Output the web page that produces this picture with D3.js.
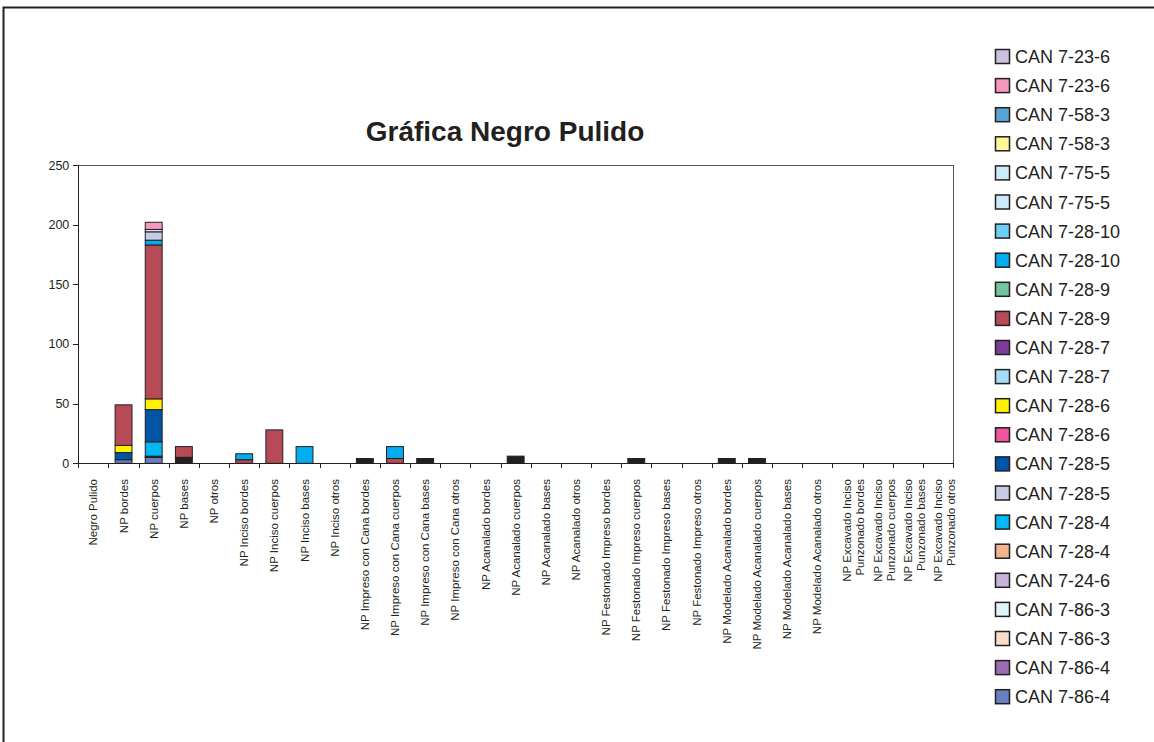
<!DOCTYPE html>
<head>
    <meta charset="utf-8">
    <title>Gráfica Negro Pulido</title>
    <script src="https://d3js.org/d3.v7.min.js"></script>
    <style>
        body{
            margin: 0;
            background: #ffffff;
        }
        text{
            font-family: "Liberation Sans", Arial, sans-serif;
            fill: #231f20;
        }
        text.title{
            font-size: 28px;
            font-weight: 700;
        }
        text.catLabel{
            font-size: 11.5px;
        }
        text.legendLabel{
            font-size: 18px;
        }
        .tick line, path.domain{
            stroke: #231f20;
            shape-rendering: crispEdges;
        }
    </style>
</head>
<body>
<script>
    // categorias del eje x
    const categories = [
        "Negro Pulido", "NP bordes", "NP cuerpos", "NP bases", "NP otros",
        "NP Inciso bordes", "NP Inciso cuerpos", "NP Inciso bases", "NP Inciso otros",
        "NP Impreso con Cana bordes", "NP Impreso con Cana cuerpos", "NP Impreso con Cana bases", "NP Impreso con Cana otros",
        "NP Acanalado bordes", "NP Acanalado cuerpos", "NP Acanalado bases", "NP Acanalado otros",
        "NP Festonado Impreso bordes", "NP Festonado Impreso cuerpos", "NP Festonado Impreso bases", "NP Festonado Impreso otros",
        "NP Modelado Acanalado bordes", "NP Modelado Acanalado cuerpos", "NP Modelado Acanalado bases", "NP Modelado Acanalado otros",
        "NP Excavado Inciso Punzonado bordes", "NP Excavado Inciso Punzonado cuerpos",
        "NP Excavado Inciso Punzonado bases", "NP Excavado Inciso Punzonado otros"
    ];

    // leyenda, de arriba hacia abajo
    const legendNames = [
        "CAN 7-23-6", "CAN 7-23-6", "CAN 7-58-3", "CAN 7-58-3", "CAN 7-75-5", "CAN 7-75-5",
        "CAN 7-28-10", "CAN 7-28-10", "CAN 7-28-9", "CAN 7-28-9", "CAN 7-28-7", "CAN 7-28-7",
        "CAN 7-28-6", "CAN 7-28-6", "CAN 7-28-5", "CAN 7-28-5", "CAN 7-28-4", "CAN 7-28-4",
        "CAN 7-24-6", "CAN 7-86-3", "CAN 7-86-3", "CAN 7-86-4", "CAN 7-86-4"
    ];
    const legendColors = [
        "#ccc0de", "#f598c0", "#5aa5d8", "#fff799", "#cdeaf9", "#cdeaf9",
        "#6dcff6", "#00aeef", "#72c59f", "#b64a57", "#7c3c98", "#a2dcf7",
        "#fff200", "#f0559e", "#0054a6", "#c7cbe6", "#00b9f2", "#f2b48c",
        "#c9b3d9", "#e1f4fb", "#fbdcc8", "#9a6cb0", "#6a7fc0"
    ];

    // valores por serie (solo las que tienen tiestos), en orden de apilado
    const v_7_86_4  = [0, 3, 5, 0, 0, 0, 0, 0, 0, 0, 0, 0, 0, 0, 0, 0, 0, 0, 0, 0, 0, 0, 0, 0, 0, 0, 0, 0, 0];
    const v_otros   = [0, 0, 1, 5, 0, 0, 0, 0, 0, 4, 0, 4, 0, 0, 6, 0, 0, 0, 4, 0, 0, 4, 4, 0, 0, 0, 0, 0, 0];
    const v_7_28_4  = [0, 0, 12, 0, 0, 0, 0, 0, 0, 0, 0, 0, 0, 0, 0, 0, 0, 0, 0, 0, 0, 0, 0, 0, 0, 0, 0, 0, 0];
    const v_7_28_5  = [0, 6, 27, 0, 0, 0, 0, 0, 0, 0, 0, 0, 0, 0, 0, 0, 0, 0, 0, 0, 0, 0, 0, 0, 0, 0, 0, 0, 0];
    const v_7_28_6  = [0, 6, 9, 0, 0, 0, 0, 0, 0, 0, 0, 0, 0, 0, 0, 0, 0, 0, 0, 0, 0, 0, 0, 0, 0, 0, 0, 0, 0];
    const v_7_28_9  = [0, 34, 129, 9, 0, 3, 28, 0, 0, 0, 4, 0, 0, 0, 0, 0, 0, 0, 0, 0, 0, 0, 0, 0, 0, 0, 0, 0, 0];
    const v_7_28_10 = [0, 0, 4, 0, 0, 5, 0, 14, 0, 0, 10, 0, 0, 0, 0, 0, 0, 0, 0, 0, 0, 0, 0, 0, 0, 0, 0, 0, 0];
    const v_7_28_5b = [0, 0, 7, 0, 0, 0, 0, 0, 0, 0, 0, 0, 0, 0, 0, 0, 0, 0, 0, 0, 0, 0, 0, 0, 0, 0, 0, 0, 0];
    const v_7_75_5  = [0, 0, 2, 0, 0, 0, 0, 0, 0, 0, 0, 0, 0, 0, 0, 0, 0, 0, 0, 0, 0, 0, 0, 0, 0, 0, 0, 0, 0];
    const v_7_23_6  = [0, 0, 6, 0, 0, 0, 0, 0, 0, 0, 0, 0, 0, 0, 0, 0, 0, 0, 0, 0, 0, 0, 0, 0, 0, 0, 0, 0, 0];

    const yTicks = [0, 50, 100, 150, 200, 250];

    // fila de la leyenda de cada serie apilada (-1 = fuera de la leyenda, negro)
    const stacked = [
        {key: "s0", row: 22, values: v_7_86_4},
        {key: "s1", row: -1, values: v_otros},
        {key: "s2", row: 16, values: v_7_28_4},
        {key: "s3", row: 14, values: v_7_28_5},
        {key: "s4", row: 12, values: v_7_28_6},
        {key: "s5", row: 9,  values: v_7_28_9},
        {key: "s6", row: 7,  values: v_7_28_10},
        {key: "s7", row: 15, values: v_7_28_5b},
        {key: "s8", row: 4,  values: v_7_75_5},
        {key: "s9", row: 1,  values: v_7_23_6}
    ];

    const width = 1154, height = 742;
    const plot = {left: 78.3, right: 953, top: 165, bottom: 463.3};

    const svg = d3.select("body").append("svg")
        .attr("width", width)
        .attr("height", height);

    // marco exterior
    svg.append("rect")
        .attr("x", 3.5).attr("y", 7.5)
        .attr("width", width + 10).attr("height", height + 10)
        .attr("fill", "#ffffff")
        .attr("stroke", "#231f20")
        .attr("stroke-width", 2);

    svg.append("text")
        .attr("class", "title")
        .attr("x", 505)
        .attr("y", 141)
        .style("text-anchor", "middle")
        .text("Gráfica Negro Pulido");

    let x = d3.scaleBand()
        .domain(categories)
        .range([plot.left, plot.right])
        .padding(0);

    let y = d3.scaleLinear()
        .domain([0, 250])
        .range([plot.bottom, plot.top]);

    const barW = x.bandwidth() * 0.56;

    // caja del area de trazado
    svg.append("rect")
        .attr("x", plot.left).attr("y", plot.top)
        .attr("width", plot.right - plot.left)
        .attr("height", plot.bottom - plot.top)
        .attr("fill", "none")
        .attr("stroke", "#555555")
        .attr("stroke-width", 1)
        .style("shape-rendering", "crispEdges");

    // tabla para d3.stack
    const table = categories.map((c, i) => {
        let row = {category: c};
        stacked.forEach(s => row[s.key] = s.values[i]);
        return row;
    });

    const layers = d3.stack().keys(stacked.map(s => s.key))(table);

    const colorOf = key => {
        let s = stacked.find(d => d.key == key);
        return s.row < 0 ? "#231f20" : legendColors[s.row];
    };

    svg.append("g").selectAll("g")
        .data(layers)
        .enter()
        .append("g")
        .attr("fill", d => colorOf(d.key))
        .selectAll("rect")
        .data(d => d.filter(p => p[1] - p[0] > 0))
        .enter()
        .append("rect")
        .attr("x", d => x(d.data.category) + (x.bandwidth() - barW) / 2)
        .attr("width", barW)
        .attr("y", d => y(d[1]))
        .attr("height", d => y(d[0]) - y(d[1]))
        .attr("stroke", "#231f20")
        .attr("stroke-width", 1);

    // eje y
    svg.append("g")
        .attr("class", "yAxis")
        .attr("transform", `translate(${plot.left},0)`)
        .call(d3.axisLeft(y).tickValues(yTicks).tickSize(5).tickPadding(4))
        .selectAll(".tick text")
        .style("font-size", "12.5px")
        .style("font-family", "'Liberation Sans', Arial, sans-serif");

    // eje x: marcas en los limites de cada categoria
    let xEdges = d3.scaleLinear()
        .domain([0, categories.length])
        .range([plot.left, plot.right]);

    svg.append("g")
        .attr("class", "xAxis")
        .attr("transform", `translate(0,${plot.bottom})`)
        .call(d3.axisBottom(xEdges)
            .tickValues(d3.range(categories.length + 1))
            .tickSize(5)
            .tickFormat(""));

    // etiquetas verticales
    const labelLines = name => {
        let k = name.indexOf(" Punzonado");
        return k > 0 ? [name.slice(0, k), name.slice(k + 1)] : [name];
    };

    categories.forEach(c => {
        let cx = x(c) + x.bandwidth() / 2;
        labelLines(c).forEach((line, j) => {
            svg.append("text")
                .attr("class", "catLabel")
                .attr("transform", `translate(${cx + j * 13},${479}) rotate(-90)`)
                .attr("dy", "0.35em")
                .style("text-anchor", "end")
                .text(line);
        });
    });

    // leyenda
    const legend = svg.append("g").attr("class", "legend");

    legend.selectAll("rect")
        .data(legendNames)
        .enter()
        .append("rect")
        .attr("x", 995.5)
        .attr("y", (d, i) => 49.5 + i * 29.1)
        .attr("width", 14)
        .attr("height", 14)
        .attr("fill", (d, i) => legendColors[i])
        .attr("stroke", "#231f20")
        .attr("stroke-width", 1.5);

    legend.selectAll("text")
        .data(legendNames)
        .enter()
        .append("text")
        .attr("class", "legendLabel")
        .attr("x", 1015)
        .attr("y", (d, i) => 63 + i * 29.1)
        .text(d => d);
</script>
</body>
